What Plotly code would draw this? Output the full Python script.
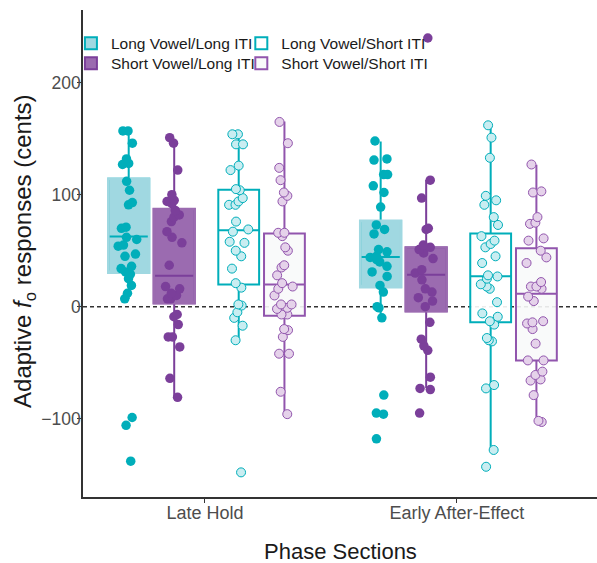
import plotly.graph_objects as go

# ---------------- data ----------------
phases = ["Late Hold", "Early After-Effect"]
series = ["Long Vowel/Long ITI", "Short Vowel/Long ITI",
          "Long Vowel/Short ITI", "Short Vowel/Short ITI"]

# individual responses (cents) per series: [Late Hold, Early After-Effect]
ll_lh = [157, 157, 146, 132, 128, 127, 112, 104, 93, 91, 71, 70, 62, 60, 54, 55,
         47, 45, 36, 34, 31, 29, 25, 19, 12, 7, -99, -106, -138]
ll_eae = [148, 132, 131, 118, 118, 108, 102, 89, 73, 69, 65, 51, 49, 45, 44, 42,
          40, 36, 31, 27, 19, 13, 0, -1, -10, -79, -96, -95, -118]
sl_lh = [151, 146, 122, 100, 95, 94, 92, 86, 82, 80, 76, 67, 62, 57, 37, 18, 16,
         12, 10, 7, 7, -7, -9, -16, -27, -27, -36, -64, -81]
sl_eae = [240, 113, 97, 70, 69, 55, 53, 51, 48, 43, 33, 30, 24, 16, 13, 8, 5, 0,
          -14, -29, -35, -39, -63, -73, -74, -95]
ls_lh = [154, 154, 145, 145, 126, 122, 105, 104, 97, 94, 91, 91, 76, 69, 67, 57,
         58, 50, 45, 34, 21, 17, 2, 1, -5, -10, -17, -30, -148]
ls_eae = [162, 151, 133, 99, 95, 91, 80, 73, 63, 59, 56, 53, 45, 39, 27, 28, 25,
          20, 18, 16, 4, -6, -9, -13, -16, -30, -28, -31, -73, -70, -128, -143]
ss_lh = [165, 146, 124, 113, 102, 99, 94, 66, 66, 63, 53, 50, 37, 35, 28, 21, 18,
         16, 10, 2, 2, -1, -2, -7, -7, -20, -21, -27, -42, -42, -76, -96]
ss_eae = [127, 103, 102, 80, 75, 74, 61, 59, 50, 44, 39, 22, 18, 18, 16, 9, 5,
          -13, -14, -15, -20, -33, -48, -48, -58, -61, -65, -66, -79, -103, -102]

# box statistics: [Late Hold, Early After-Effect]
ll_q1, ll_med, ll_q3, ll_lf, ll_uf = [30.3, 17.5], [62.7, 44.3], [114.3, 76.6], [6.9, -10.3], [157, 147.6]
sl_q1, sl_med, sl_q3, sl_lf, sl_uf = [3.0, -4.1], [27.6, 28.5], [87.3, 52.9], [-80.7, -72.7], [150, 113.4]
ls_q1, ls_med, ls_q3, ls_lf, ls_uf = [19.9, -13.9], [68.3, 27.1], [104.5, 65.4], [-30.3, -128.2], [154.4, 162]
ss_q1, ss_med, ss_q3, ss_lf, ss_uf = [-8.0, -48.1], [19.9, 11.6], [65.4, 52.3], [-95.9, -102.4], [165.4, 126.8]

y_title = "Adaptive <i>f</i><sub>o</sub> responses (cents)"
x_title = "Phase Sections"

# ---------------- styling ----------------
CYAN = "#00AEBA"
PURPLE = "#7B3F9A"
LL_FILL = "#A0D8E1"
SL_FILL = "#9B6BB0"
LS_PT = "#C9EDF1"
SS_PT = "#E5D2EA"
SS_LINE = "#9155AD"

offsets = [-0.3026, -0.122, 0.134, 0.3155]
BW = 0.162
pos = [1, 2]
FONT = "Liberation Sans, Arial, sans-serif"

fig = go.Figure()


def xs(k):
    return [p + offsets[k] for p in pos]


def box(k, q1, med, q3, lf, uf, line, fill, legend, show=True, width=2):
    fig.add_trace(go.Box(
        x=xs(k), q1=q1, median=med, q3=q3, lowerfence=lf, upperfence=uf,
        width=BW, boxpoints=False, whiskerwidth=0,
        line=dict(color=line, width=width), fillcolor=fill,
        name=series[k], legend=legend, showlegend=show, hoverinfo="skip"))


def cover(k, q1, q3, color):
    # re-stroke the box outline in the fill colour (no visible border)
    fig.add_trace(go.Box(
        x=xs(k), q1=q1, median=q1, q3=q3, lowerfence=q1, upperfence=q3,
        width=BW, boxpoints=False, whiskerwidth=0,
        line=dict(color=color, width=2.6), fillcolor="rgba(0,0,0,0)",
        showlegend=False, hoverinfo="skip"))


box(0, ll_q1, ll_med, ll_q3, ll_lf, ll_uf, CYAN, LL_FILL, "legend")
cover(0, ll_q1, ll_q3, LL_FILL)
box(1, sl_q1, sl_med, sl_q3, sl_lf, sl_uf, PURPLE, SL_FILL, "legend2")
cover(1, sl_q1, sl_q3, SL_FILL)
box(2, ls_q1, ls_med, ls_q3, ls_lf, ls_uf, CYAN, "rgba(255,255,255,0.9)", "legend3")
box(3, ss_q1, ss_med, ss_q3, ss_lf, ss_uf, SS_LINE, "rgba(248,250,250,0.9)", "legend4")


def points(k, lh, eae, fill, line, lw, size):
    x = [pos[0] + offsets[k]] * len(lh) + [pos[1] + offsets[k]] * len(eae)
    fig.add_trace(go.Box(
        x=x, y=lh + eae, width=BW, boxpoints="all", jitter=0.55, pointpos=0,
        line=dict(width=0, color="rgba(0,0,0,0)"), fillcolor="rgba(0,0,0,0)",
        marker=dict(color=fill, size=size, line=dict(color=line, width=lw)),
        showlegend=False, hoveron="points", name=series[k]))


points(0, ll_lh, ll_eae, CYAN, CYAN, 0, 9.5)
points(1, sl_lh, sl_eae, PURPLE, PURPLE, 0, 9.5)
points(2, ls_lh, ls_eae, LS_PT, CYAN, 1, 9)
points(3, ss_lh, ss_eae, SS_PT, SS_LINE, 1, 9)

fig.add_hline(y=0, line=dict(color="#333333", width=1.5, dash="4px,3px"), layer="below")

# legend placement (paper coords): two columns x two rows
leg_common = dict(xanchor="left", yanchor="middle", bgcolor="rgba(0,0,0,0)",
                  font=dict(size=15.5, color="#1a1a1a", family=FONT),
                  itemclick=False, borderwidth=0)
col_x = [-0.0235, 0.308]
row_y = [0.931, 0.890]

fig.update_layout(
    width=597, height=563,
    margin=dict(l=83, r=0, t=10, b=66),
    paper_bgcolor="white", plot_bgcolor="white",
    boxmode="overlay",
    font=dict(family=FONT, color="#1a1a1a"),
    xaxis=dict(range=[0.516, 2.556], tickvals=pos, ticktext=phases,
               showgrid=False, zeroline=False, showline=True, linecolor="#333333",
               linewidth=1.5, ticks="outside", ticklen=4, tickcolor="#333333",
               automargin=False, ticklabelstandoff=-5,
               tickfont=dict(size=18, color="#4D4D4D", family=FONT)),
    yaxis=dict(range=[-170, 265], tickvals=[-100, 0, 100, 200],
               ticktext=["\u2212100", "0", "100", "200"],
               showgrid=False, zeroline=False, showline=True, linecolor="#333333",
               linewidth=1.5, ticks="outside", ticklen=4, tickcolor="#333333",
               automargin=False, ticklabelstandoff=-7,
               tickfont=dict(size=17.5, color="#4D4D4D", family=FONT)),
    legend=dict(x=col_x[0], y=row_y[0], **leg_common),
    legend2=dict(x=col_x[0], y=row_y[1], **leg_common),
    legend3=dict(x=col_x[1], y=row_y[0], **leg_common),
    legend4=dict(x=col_x[1], y=row_y[1], **leg_common),
    annotations=[
        dict(text=y_title, xref="paper", yref="paper", x=-0.115, y=0.505,
             xanchor="center", yanchor="middle", textangle=-90, showarrow=False,
             font=dict(size=24, color="#1a1a1a", family=FONT)),
        dict(text=x_title, xref="paper", yref="paper", x=0.5, y=-0.111,
             xanchor="center", yanchor="middle", showarrow=False,
             font=dict(size=22, color="#1a1a1a", family=FONT)),
    ],
)

fig.write_html("out.html", config={"displayModeBar": False},
               post_script="document.body.style.margin='0px';")
